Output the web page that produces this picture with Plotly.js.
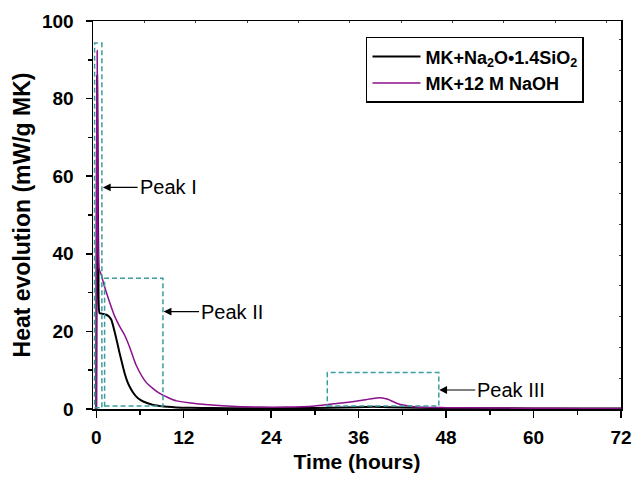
<!DOCTYPE html>
<html>
<head>
<meta charset="utf-8">
<script src="https://cdn.plot.ly/plotly-3.0.1.min.js"></script>
<style>html,body{margin:0;padding:0;background:#fff}#chart{width:633px;height:480px}</style>
</head>
<body>
<div id="chart"></div>
<script>
// ---- data ----
const seriesNames = ['MK+Na<sub>2</sub>O•1.4SiO<sub>2</sub>', 'MK+12 M NaOH'];

const silicateTime = [0, 0.05, 0.12, 0.2, 0.3, 0.45, 0.7, 1.0, 1.37, 1.7, 2.06, 2.51, 2.85, 3.2, 3.55, 3.89, 4.2, 4.57, 5.0, 5.49, 6.1, 6.87, 7.7, 8.7, 9.8, 11, 13, 16, 20, 24, 28, 32, 36, 38, 40, 44, 48, 54, 60, 66, 72];
const silicateHeat = [0, 45, 86, 58, 36, 24.7, 24.6, 24.5, 24.3, 23.9, 23.0, 20.0, 17.3, 14.4, 11.7, 9.2, 7.4, 5.8, 4.4, 3.2, 2.3, 1.6, 1.1, 0.8, 0.55, 0.4, 0.3, 0.25, 0.2, 0.2, 0.25, 0.3, 0.45, 0.55, 0.45, 0.3, 0.25, 0.2, 0.15, 0.12, 0.1];

const hydroxideTime = [0, 0.05, 0.12, 0.22, 0.36, 0.7, 1.14, 1.83, 2.5, 3.2, 3.9, 4.57, 5.49, 6.87, 8.7, 11, 14.2, 17.9, 22.4, 26, 30, 32, 34, 36, 37.5, 39, 40, 41.2, 42.5, 44, 48, 54, 60, 66, 72];
const hydroxideHeat = [0, 60, 92.4, 62, 36.3, 34.5, 31.5, 27.5, 24.0, 21.3, 19.0, 16.0, 11.2, 6.8, 4.0, 2.1, 1.3, 0.8, 0.5, 0.5, 0.8, 1.2, 1.6, 2.1, 2.6, 2.9, 2.5, 1.5, 0.9, 0.5, 0.35, 0.25, 0.2, 0.15, 0.1];

const xTicks = [0, 12, 24, 36, 48, 60, 72];
const yTicks = [0, 20, 40, 60, 80, 100];

// peak boxes: [x0, x1, y0, y1]
const peakBoxes = [[-0.23, 0.77, 0.3, 94.3], [1.14, 9.15, 0.8, 33.7], [31.7, 47.0, 0.8, 9.4]];
const peakLabels = ['Peak I', 'Peak II', 'Peak III'];
// arrows: [headX, tailX, y]
const peakArrows = [[0.91, 5.67, 57.1], [9.24, 14.1, 25.1], [47.06, 52.0, 4.9]];

// ---- build ----
const FONT = 'Liberation Sans, Arial, sans-serif';
const traces = [
  {x: silicateTime, y: silicateHeat, name: seriesNames[0], type: 'scatter', mode: 'lines',
   line: {color: '#000000', width: 2, shape: 'spline', smoothing: 0.6}},
  {x: hydroxideTime, y: hydroxideHeat, name: seriesNames[1], type: 'scatter', mode: 'lines',
   line: {color: '#8b108b', width: 1.5, shape: 'spline', smoothing: 0.6}},
  {x: [], y: [], xaxis: 'x2', yaxis: 'y2', showlegend: false, hoverinfo: 'skip'}
];

const shapes = peakBoxes.map(b => ({
  type: 'rect', xref: 'x', yref: 'y', x0: b[0], x1: b[1], y0: b[2], y1: b[3],
  line: {color: '#3b9c9e', width: 1.5, dash: '5px,3px'}
}));

const annotations = peakArrows.map((a, i) => ({
  x: a[0], y: a[2], ax: a[1], ay: a[2], xref: 'x', yref: 'y', axref: 'x', ayref: 'y',
  text: peakLabels[i], xanchor: 'left', yanchor: 'middle',
  showarrow: true, arrowhead: 2, arrowsize: 1.3, arrowwidth: 1.2, arrowcolor: '#000', standoff: 0,
  font: {family: FONT, size: 20, color: '#000'}
}));

const layout = {
  width: 633, height: 480,
  margin: {l: 93, r: 12, t: 21, b: 71},
  paper_bgcolor: '#fff', plot_bgcolor: '#fff',
  showlegend: true,
  legend: {x: 0.517, y: 0.959, xanchor: 'left', yanchor: 'top', bgcolor: '#fff',
    bordercolor: '#000', borderwidth: 1.5, itemwidth: 48,
    font: {family: FONT, size: 18, color: '#000', weight: 'bold'}},
  xaxis: {range: [-0.45, 72], tickvals: xTicks, ticks: 'outside', ticklen: 7, tickwidth: 1.5, tickcolor: '#000',
    minor: {dtick: 6, ticks: 'outside', ticklen: 4, tickwidth: 1.5, tickcolor: '#000'},
    showline: true, linecolor: '#000', linewidth: 1.5, mirror: true, showgrid: false, zeroline: false,
    tickfont: {family: FONT, size: 19, color: '#000', weight: 'bold'}, ticklabelstandoff: 4,
    title: {text: 'Time (hours)', font: {family: FONT, size: 21, color: '#000', weight: 'bold'}, standoff: 7}},
  yaxis: {range: [0, 100], tickvals: yTicks, ticks: 'outside', ticklen: 6, tickwidth: 1.5, tickcolor: '#000',
    minor: {dtick: 10, ticks: 'outside', ticklen: 4, tickwidth: 1.5, tickcolor: '#000'},
    showline: true, linecolor: '#000', linewidth: 1.5, mirror: true, showgrid: false, zeroline: false,
    tickfont: {family: FONT, size: 19, color: '#000', weight: 'bold'}, ticklabelstandoff: 8,
    title: {text: 'Heat evolution (mW/g MK)', font: {family: FONT, size: 23, color: '#000', weight: 'bold'}, standoff: 5}},
  xaxis2: {overlaying: 'x', side: 'top', anchor: 'y', range: [0, 10.28], dtick: 1, ticks: 'inside', ticklen: 2,
    tickcolor: '#444', showticklabels: false, showgrid: false, zeroline: false, showline: false},
  yaxis2: {overlaying: 'y', side: 'right', anchor: 'x', range: [0, 12.6], dtick: 1, ticks: 'inside', ticklen: 2,
    tickcolor: '#444', showticklabels: false, showgrid: false, zeroline: false, showline: false},
  shapes: shapes,
  annotations: annotations
};

Plotly.newPlot('chart', traces, layout, {displayModeBar: false, staticPlot: true});
</script>
</body>
</html>
